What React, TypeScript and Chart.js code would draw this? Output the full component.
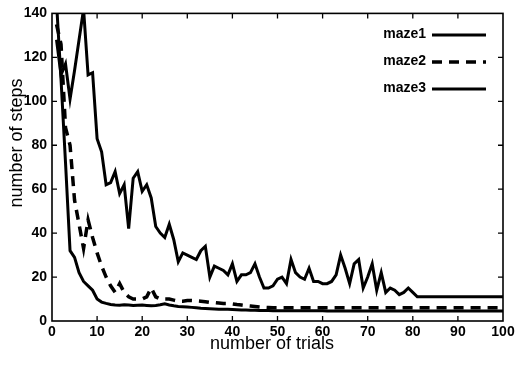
import React, { useEffect, useRef } from "react";
import { Chart, registerables } from "chart.js";

Chart.register(...registerables);

const trials: number[] = Array.from({ length: 100 }, (_, i) => i + 1);

const maze1: number[] = [
  145, 110, 72, 32, 29, 22, 18, 16, 14, 10,
  8.6, 8, 7.5, 7.3, 7.2, 7.4, 7.3, 7.1, 7.2, 7.3,
  7.1, 6.9, 7.1, 7.4, 7.8, 7.3, 6.9, 6.6, 6.5, 6.4,
  6.2, 6.0, 5.8, 5.7, 5.6, 5.5, 5.4, 5.3, 5.3, 5.2,
  5.1, 5.0, 5.0, 4.9, 4.9, 4.8, 4.8, 4.8, 4.7, 4.7,
  4.7, 4.7, 4.7, 4.7, 4.7, 4.7, 4.7, 4.7, 4.7, 4.7,
  4.6, 4.6, 4.6, 4.6, 4.6, 4.6, 4.6, 4.6, 4.6, 4.6,
  4.6, 4.6, 4.6, 4.6, 4.6, 4.6, 4.6, 4.6, 4.6, 4.6,
  4.6, 4.6, 4.6, 4.6, 4.6, 4.6, 4.6, 4.6, 4.6, 4.6,
  4.6, 4.6, 4.6, 4.6, 4.6, 4.6, 4.6, 4.6, 4.6, 4.6,
];

const maze2: number[] = [
  135, 126, 88, 80, 55, 44, 33, 46, 38, 31,
  25, 20, 16, 13, 17, 13, 11, 10, 10, 10,
  11, 15, 11, 10, 10, 10, 9.5, 9, 9, 9.3,
  9.3, 9.2, 9, 8.8, 8.5, 8.4, 8.2, 8, 8, 7.8,
  7.5, 7.3, 7, 6.8, 6.6, 6.4, 6.2, 6.1, 6, 6,
  6, 6, 6, 6, 6, 6, 6, 6, 6, 6,
  6, 6, 6, 6, 6, 6, 6, 6, 6, 6,
  6, 6, 6, 6, 6, 6, 6, 6, 6, 6,
  6, 6, 6, 6, 6, 6, 6, 6, 6, 6,
  6, 6, 6, 6, 6, 6, 6, 6, 6, 6,
];

const maze3: number[] = [
  128, 112, 117, 101, 114, 128, 142, 112, 113, 83,
  77, 62, 63, 68, 58, 62, 42, 65, 68, 59,
  62, 56, 43, 40, 38, 44, 37, 27, 31, 30,
  29, 28, 32, 34, 20, 25, 24, 23, 21, 26,
  18, 21, 21, 22, 26, 20, 15, 15, 16, 19,
  20, 17, 28, 22, 20, 19, 24, 18, 18, 17,
  17, 18, 21, 30, 24, 17, 26, 28, 15, 20,
  26, 14, 22, 13, 15, 14, 12, 13, 15, 13,
  11, 11, 11, 11, 11, 11, 11, 11, 11, 11,
  11, 11, 11, 11, 11, 11, 11, 11, 11, 11,
];

const seriesLabels = ["maze1", "maze2", "maze3"];
const xTitle = "number of trials";
const yTitle = "number of steps";

const tickFont = { family: "'Liberation Sans Narrow', 'Liberation Sans', Arial, sans-serif", size: 14, weight: "bold" as const };

const framePlugin = {
  id: "frame",
  afterDraw(chart: any) {
    const { ctx, chartArea } = chart;
    const { left, right, top, bottom } = chartArea;
    const xs = chart.scales.x;
    const ys = chart.scales.y;
    ctx.save();
    ctx.strokeStyle = "#000";
    ctx.lineWidth = 1.6;
    ctx.strokeRect(left, top, right - left, bottom - top);
    ctx.lineWidth = 1.3;
    const tl = 5;
    for (let v = 10; v < 100; v += 10) {
      const px = xs.getPixelForValue(v);
      ctx.beginPath();
      ctx.moveTo(px, bottom);
      ctx.lineTo(px, bottom - tl);
      ctx.moveTo(px, top);
      ctx.lineTo(px, top + tl);
      ctx.stroke();
    }
    for (let v = 20; v < 140; v += 20) {
      const py = ys.getPixelForValue(v);
      ctx.beginPath();
      ctx.moveTo(left, py);
      ctx.lineTo(left + tl, py);
      ctx.moveTo(right, py);
      ctx.lineTo(right - tl, py);
      ctx.stroke();
    }
    // legend
    ctx.fillStyle = "#000";
    ctx.font = "bold 14px 'Liberation Sans', Arial, sans-serif";
    ctx.textAlign = "right";
    ctx.textBaseline = "middle";
    const ly = [34, 61, 88];
    chart.data.datasets.forEach((ds: any, i: number) => {
      ctx.fillText(ds.label, 426, ly[i]);
      ctx.beginPath();
      ctx.lineWidth = ds.borderWidth;
      ctx.setLineDash(ds.borderDash || []);
      ctx.moveTo(432, ly[i] + 1);
      ctx.lineTo(486, ly[i] + 1);
      ctx.stroke();
      ctx.setLineDash([]);
    });
    // titles
    ctx.font = "18px 'Liberation Sans', Arial, sans-serif";
    ctx.textAlign = "center";
    ctx.textBaseline = "middle";
    ctx.fillText(xTitle, 272, 344);
    ctx.translate(17, 143);
    ctx.rotate(-Math.PI / 2);
    ctx.fillText(yTitle, 0, 0);
    ctx.restore();
  },
};

export default function App() {
  const ref = useRef<HTMLCanvasElement | null>(null);
  useEffect(() => {
    document.body.style.margin = "0";
    const canvas = ref.current;
    if (!canvas) return;
    const mk = (vals: number[]) => trials.map((t, i) => ({ x: t, y: vals[i] }));
    const chart = new Chart(canvas, {
      type: "line",
      data: {
        datasets: [
          { label: seriesLabels[0], data: mk(maze1), borderColor: "#000", borderWidth: 3, pointRadius: 0, tension: 0, fill: false },
          { label: seriesLabels[1], data: mk(maze2), borderColor: "#000", borderWidth: 3.5, borderDash: [10, 7], pointRadius: 0, tension: 0, fill: false },
          { label: seriesLabels[2], data: mk(maze3), borderColor: "#000", borderWidth: 3, pointRadius: 0, tension: 0, fill: false },
        ],
      },
      options: {
        responsive: false,
        animation: false,
        layout: { padding: { top: 10, right: 24, left: 0, bottom: 0 } },
        plugins: { legend: { display: false }, tooltip: { enabled: false } },
        scales: {
          x: {
            type: "linear",
            min: 0,
            max: 100,
            ticks: { stepSize: 10, color: "#000", font: tickFont, padding: 3, maxRotation: 0, autoSkip: false },
            grid: { display: false, drawTicks: false },
            border: { display: false },
            afterFit(s: any) { s.height = 46; },
          },
          y: {
            min: 0,
            max: 140,
            ticks: { stepSize: 20, color: "#000", font: tickFont, padding: 5 },
            grid: { display: false, drawTicks: false },
            border: { display: false },
            afterFit(s: any) { s.width = 52; },
          },
        },
      } as any,
      plugins: [framePlugin],
    });
    return () => chart.destroy();
  }, []);
  return <canvas ref={ref} width={527} height={367} style={{ display: "block" }} />;
}
